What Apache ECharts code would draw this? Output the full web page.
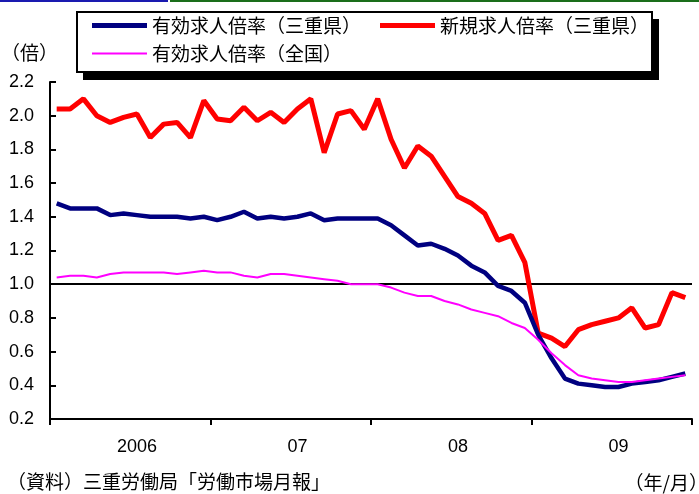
<!DOCTYPE html>
<html>
<head>
<meta charset="utf-8">
<script src="https://cdn.jsdelivr.net/npm/echarts@6/dist/echarts.min.js"></script>
<style>
  html, body { margin: 0; padding: 0; background: #fff; }
  #chart { width: 699px; height: 494px; }
</style>
</head>
<body>
<div id="chart"></div>
<script>
// Monthly categories, January 2006 to December 2009
const years = [2006, 2007, 2008, 2009];
const yearLabels = ['2006', '07', '08', '09'];
const months = [];
years.forEach(y => { for (let m = 1; m <= 12; m++) months.push(y + '/' + m); });

const seriesNames = ['有効求人倍率（三重県）', '新規求人倍率（三重県）', '有効求人倍率（全国）'];

// 有効求人倍率（三重県）
const mieActive = [
  1.48, 1.45, 1.45, 1.45, 1.41, 1.42, 1.41, 1.40, 1.40, 1.40, 1.39, 1.40,
  1.38, 1.40, 1.43, 1.39, 1.40, 1.39, 1.40, 1.42, 1.38, 1.39, 1.39, 1.39,
  1.39, 1.35, 1.29, 1.23, 1.24, 1.21, 1.17, 1.11, 1.07, 0.99, 0.96, 0.89,
  0.70, 0.56, 0.44, 0.41, 0.40, 0.39, 0.39, 0.41, 0.42, 0.43, 0.45, 0.47
];
// 新規求人倍率（三重県）
const mieNew = [
  2.04, 2.04, 2.10, 2.00, 1.96, 1.99, 2.01, 1.87, 1.95, 1.96, 1.87, 2.09,
  1.98, 1.97, 2.05, 1.97, 2.02, 1.96, 2.04, 2.10, 1.78, 2.01, 2.03, 1.92,
  2.10, 1.86, 1.69, 1.82, 1.76, 1.64, 1.52, 1.48, 1.42, 1.26, 1.29, 1.13,
  0.71, 0.68, 0.63, 0.73, 0.76, 0.78, 0.80, 0.86, 0.74, 0.76, 0.95, 0.92
];
// 有効求人倍率（全国）
const nationActive = [
  1.04, 1.05, 1.05, 1.04, 1.06, 1.07, 1.07, 1.07, 1.07, 1.06, 1.07, 1.08,
  1.07, 1.07, 1.05, 1.04, 1.06, 1.06, 1.05, 1.04, 1.03, 1.02, 1.00, 1.00,
  1.00, 0.98, 0.95, 0.93, 0.93, 0.90, 0.88, 0.85, 0.83, 0.81, 0.77, 0.74,
  0.67, 0.59, 0.52, 0.46, 0.44, 0.43, 0.42, 0.42, 0.43, 0.44, 0.45, 0.46
];

const latin = "'Liberation Sans', Arial, sans-serif";
const cjk = "'Noto Sans CJK JP', sans-serif";

const chart = echarts.init(document.getElementById('chart'), null, { renderer: 'canvas' });

function legendFor(name, left, top, h) {
  return {
    data: [{ name: name, icon: 'rect' }],
    left: left, top: top, padding: 0, itemGap: 0,
    itemWidth: 55, itemHeight: h, z: 10,
    selectedMode: false,
    textStyle: { fontFamily: cjk, fontSize: 19, color: '#000' }
  };
}

chart.setOption({
  animation: false,
  backgroundColor: '#fff',
  grid: { left: 50, right: 7, top: 82, bottom: 75, containLabel: false },
  legend: [
    legendFor(seriesNames[0], 92, 16, 5),
    legendFor(seriesNames[1], 380, 16, 5),
    legendFor(seriesNames[2], 92, 44, 2)
  ],
  graphic: [
    // top edge strokes
    { type: 'line', shape: { x1: 0, y1: 1, x2: 168, y2: 1 }, style: { stroke: '#1a1ab0', lineWidth: 2 }, z: 1 },
    { type: 'line', shape: { x1: 170, y1: 1, x2: 699, y2: 1 }, style: { stroke: '#1a6e1a', lineWidth: 2 }, z: 1 },
    // legend frame with drop shadow
    { type: 'rect', shape: { x: 83, y: 19, width: 576, height: 61 }, style: { fill: '#000' }, z: 1 },
    { type: 'rect', shape: { x: 77, y: 12, width: 575, height: 60 }, style: { fill: '#fff', stroke: '#000', lineWidth: 2 }, z: 2 },
    // unit and notes
    { type: 'text', x: 1, y: 53, z: 3, style: { text: '（倍）', font: '19px ' + cjk, fill: '#000', textVerticalAlign: 'middle' } },
    { type: 'text', x: 7, y: 482, z: 3, style: { text: '（資料）三重労働局「労働市場月報」', font: '19px ' + cjk, fill: '#000', textVerticalAlign: 'middle' } },
    { type: 'text', x: 708, y: 483, z: 3, style: { text: '（年/月）', font: '19px ' + cjk, fill: '#000', textAlign: 'right', textVerticalAlign: 'middle' } }
  ],
  xAxis: {
    type: 'category',
    data: months,
    boundaryGap: true,
    axisLine: { lineStyle: { color: '#000', width: 2 } },
    axisTick: {
      show: true, inside: false, length: 6,
      interval: (i) => i % 12 === 0,
      lineStyle: { color: '#000', width: 2 }
    },
    axisLabel: {
      interval: (i) => i % 12 === 6,
      formatter: (v, i) => yearLabels[Math.floor(i / 12)],
      margin: 19,
      fontFamily: latin, fontSize: 18, color: '#000'
    },
    splitLine: { show: false }
  },
  yAxis: {
    type: 'value',
    min: 0.2, max: 2.2, interval: 0.2,
    axisLine: { show: true, lineStyle: { color: '#000', width: 2 } },
    axisTick: { show: true, inside: true, length: 6, lineStyle: { color: '#000', width: 2 } },
    axisLabel: {
      formatter: (v) => v.toFixed(1),
      margin: 16,
      fontFamily: latin, fontSize: 18, color: '#000'
    },
    splitLine: { show: false }
  },
  series: [
    {
      name: seriesNames[0], type: 'line', data: mieActive,
      symbol: 'none', color: '#000080',
      lineStyle: { color: '#000080', width: 4.5 },
      z: 3,
      markLine: {
        silent: true, symbol: 'none', z: 1,
        label: { show: false },
        lineStyle: { color: '#000', width: 2, type: 'solid' },
        data: [{ yAxis: 1.0 }]
      }
    },
    {
      name: seriesNames[1], type: 'line', data: mieNew,
      symbol: 'none', color: '#ff0000',
      lineStyle: { color: '#ff0000', width: 5 },
      z: 2
    },
    {
      name: seriesNames[2], type: 'line', data: nationActive,
      symbol: 'none', color: '#ff00ff',
      lineStyle: { color: '#ff00ff', width: 2 },
      z: 4
    }
  ]
});
</script>
</body>
</html>
